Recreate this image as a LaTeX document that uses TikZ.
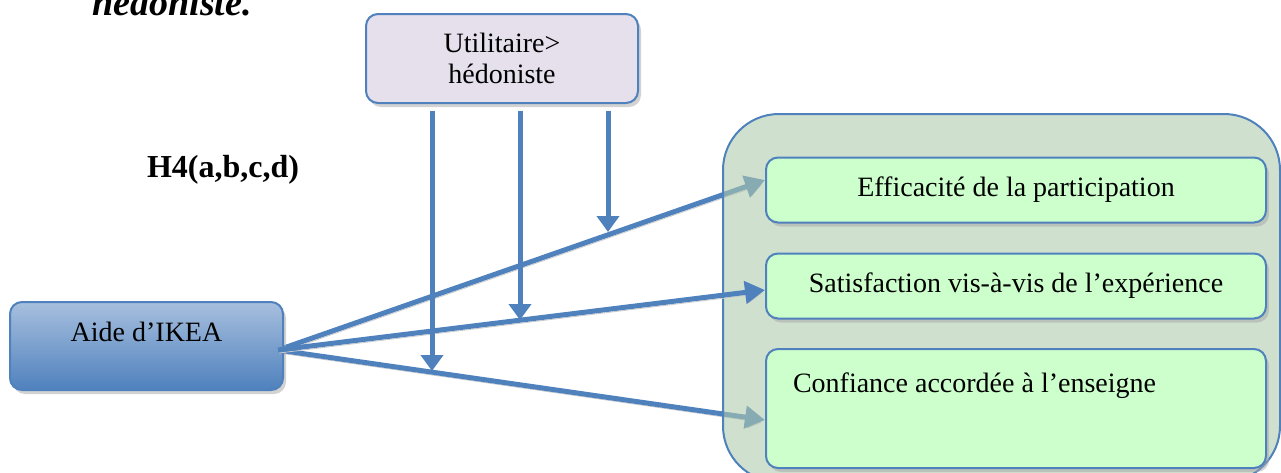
\documentclass[tikz,border=0pt]{standalone}
\usepackage{fontspec}
\setmainfont{Liberation Serif}
\usetikzlibrary{arrows.meta,shadows}

\definecolor{boxline}{RGB}{79,129,189}
\definecolor{lavender}{RGB}{229,224,236}
\definecolor{paleblue}{RGB}{167,191,222}
\definecolor{mint}{RGB}{204,255,204}
\definecolor{sage}{RGB}{174,202,172}

\pgfdeclarelayer{back}
\pgfsetlayers{back,main}

\tikzset{
  basebox/.style={draw=boxline, line width=1pt, rounded corners=6pt,
    font=\fontsize{14}{15.5}\selectfont,
    drop shadow={shadow xshift=1.5pt, shadow yshift=-2pt, fill=black!35, opacity=0.5}},
  choicebox/.style={basebox, fill=lavender, minimum width=136pt, minimum height=44.5pt, align=center},
  aidebox/.style={basebox, top color=paleblue, bottom color=boxline, minimum width=136.5pt, minimum height=44pt},
  outcome/.style={basebox, fill=mint, minimum width=250pt, minimum height=32.5pt},
  effect/.style={draw=boxline, line width=2.5pt, -{Triangle[length=10pt,width=11pt]},
    preaction={draw=black!20, transform canvas={shift={(0.5pt,-1.5pt)}}}},
  moderator/.style={draw=boxline, line width=2.5pt, -{Triangle[length=8pt,width=11pt]}}
}

\begin{document}
\begin{tikzpicture}[x=0.5pt, y=-0.5pt]
    \useasboundingbox (0,0) rectangle (1281,472);

    % Caption, cut at the top
    \node (caption) [anchor=base west, inner sep=0pt,
        font=\fontsize{19}{22}\selectfont\bfseries\itshape] at (92,15) {hédoniste.};

    % Moderator
    \node (choice) [choicebox] at (502,58.5) {Utilitaire>\\hédoniste};
    \node (hyp) [font=\fontsize{16}{18}\selectfont\bfseries] at (223,170) {H4(a,b,c,d)};

    % Independent variable
    \node (aide) [aidebox, text height=9.5pt, text depth=14.5pt] at (146.5,346) {Aide d’IKEA};
    \coordinate (src) at (278,350);

    % Outcomes
    \node (cont) [draw=boxline, line width=1pt, fill=sage, fill opacity=0.58,
        rounded corners=28pt, minimum width=278.5pt, minimum height=184pt] at (1001.5,298) {};
    \node (b1) [outcome] at (1016,190) {Efficacité de la participation};
    \node (b2) [outcome] at (1016,286) {Satisfaction vis-à-vis de l’expérience};
    \node (b3) [outcome, minimum height=59.5pt, align=flush left, inner xsep=13.5pt,
        text width=223pt, text height=9.5pt, text depth=26pt] at (1016,408.5)
        {Confiance accordée à l’enseigne};

    % Effects under the frame
    \begin{pgfonlayer}{back}
    \draw[effect] (src) -- ([yshift=5pt]b1.west);
    \draw[effect] (src) -- ([yshift=-5.75pt]b3.west);
    \end{pgfonlayer}
    \draw[effect] (src) -- ([yshift=-2pt]b2.west);

    % Moderating arrows
    \coordinate (m1) at (432,371);
    \coordinate (m2) at (520,320);
    \coordinate (m3) at (608,232);
    \draw[moderator] ([xshift=-35pt,yshift=-3.5pt]choice.south) -- (m1);
    \draw[moderator] ([xshift=9pt,yshift=-3.5pt]choice.south) -- (m2);
    \draw[moderator] ([xshift=53pt,yshift=-3.5pt]choice.south) -- (m3);

\end{tikzpicture}
\end{document}
